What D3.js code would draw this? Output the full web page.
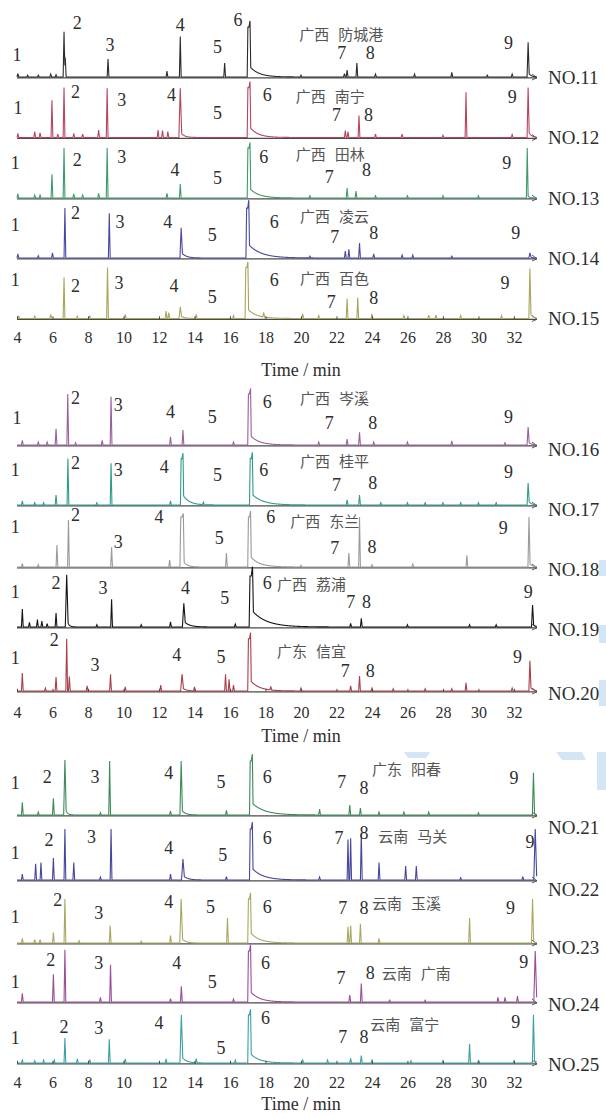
<!DOCTYPE html>
<html>
<head>
<meta charset="utf-8">
<script src="https://cdn.jsdelivr.net/npm/d3@7"></script>
<style>
  body { margin: 0; background: #fff; }
  svg text { font-family: "Liberation Serif", "Times New Roman", serif; fill: #2e2e2e; }
  svg text.cn { font-family: "Noto Sans CJK SC", sans-serif; fill: #555; }
</style>
</head>
<body>
<div id="chart"></div>
<script>
// sample names, origins and trace colours
const samples = ['NO.11','NO.12','NO.13','NO.14','NO.15','NO.16','NO.17','NO.18','NO.19','NO.20',
                 'NO.21','NO.22','NO.23','NO.24','NO.25'];
const regions = [['广西','防城港'],['广西','南宁'],['广西','田林'],['广西','凌云'],['广西','百色'],
                 ['广西','岑溪'],['广西','桂平'],['广西','东兰'],['广西','荔浦'],['广东','信宜'],
                 ['广东','阳春'],['云南','马关'],['云南','玉溪'],['云南','广南'],['云南','富宁']];
const traceColors = ['#2b2b2b','#b8455f','#3f9a6a','#4848a2','#a9a65a','#9b5e9e','#2f9c8c','#9a9a9a',
                     '#151515','#a8404a','#3d8a5a','#46469a','#a8a862','#9a4e9a','#3aa0a8'];
const tickValues = [4,6,8,10,12,14,16,18,20,22,24,26,28,30,32];

// main peaks: [time (min), height (% of row), half width, tail height, tail decay]
const majorPeaks = [
  [[6.65,78],[6.72,33],[9.13,31],[13.2,70],[15.7,24],[17.07,86,0.1,20,0.5],[23.15,24],[32.8,60,0.06,8,0.15]],
  [[5.97,64],[6.65,86],[9.08,85],[13.2,85,0.08,10,0.2],[17.07,86,0.1,20,0.45],[23.27,38],[29.3,78],[32.8,86,0.06,12,0.15]],
  [[5.97,41],[6.65,86],[9.08,86],[13.2,24],[17.07,86,0.1,18,0.5],[22.6,17],[23.1,12],[32.75,86,0.05,5,0.1]],
  [[6.7,86],[9.2,77],[13.25,52,0.07,10,0.25],[17.0,86,0.1,25,0.7],[22.5,12],[22.7,15],[23.3,26],[32.9,9,0.06,3,0.1]],
  [[6.65,71],[9.1,88],[13.2,20,0.07,5,0.2],[16.95,88,0.1,18,0.5],[22.6,34],[23.2,36],[32.9,86,0.06,10,0.15]],
  [[6.2,28],[6.86,88],[9.3,83],[12.65,14],[13.35,26],[17.1,88,0.1,18,0.5],[22.6,10],[23.3,22],[32.8,31,0.06,6,0.15]],
  [[6.2,17],[6.87,80],[9.3,72],[13.3,80,0.09,20,0.35],[17.2,80,0.1,20,0.6],[22.6,9],[23.3,17],[32.8,38,0.06,8,0.15]],
  [[6.25,38],[6.9,81],[9.33,34],[12.6,12],[13.3,86,0.12,15,0.2],[15.8,24],[17.1,86,0.1,20,0.5],[22.7,24],[23.3,86],[29.35,20],[32.85,86,0.06,8,0.15]],
  [[4.3,31],[5.15,13],[5.4,10],[6.2,24],[6.8,90,0.08,15,0.1],[9.33,48],[13.4,41,0.08,10,0.3],[17.2,88,0.12,30,0.8],[23.4,15],[33.05,38,0.06,8,0.1]],
  [[4.3,31],[6.2,24],[6.8,90],[6.95,25],[9.27,29],[13.3,29,0.08,6,0.2],[15.75,29],[15.95,20],[17.1,90,0.1,20,0.5],[23.3,26],[29.3,14],[32.9,52,0.06,8,0.15]],
  [[4.3,22],[6.05,29],[6.7,95,0.07,15,0.1],[9.22,93],[13.25,93,0.07,10,0.2],[15.8,8],[17.2,93,0.1,22,0.7],[21.05,10],[22.75,17],[23.35,12],[33.1,73,0.06,5,0.1]],
  [[4.3,10],[5.05,28],[5.35,30],[6.05,38],[6.7,88],[7.2,30],[9.3,88],[12.65,10],[13.35,36,0.08,8,0.25],[17.2,88,0.1,22,0.6],[22.65,70],[22.8,72],[23.4,82],[24.4,30],[25.9,24],[26.5,24],[33.2,88,0.08,12,0.15]],
  [[6.05,18],[6.7,76],[9.25,30],[12.65,13],[13.25,76,0.08,10,0.2],[15.86,43],[17.1,76,0.1,20,0.5],[22.65,28],[22.8,30],[23.35,33],[29.5,43],[33.05,76,0.06,5,0.1]],
  [[4.3,15],[6.05,48],[6.7,90],[9.27,64],[13.26,27],[17.1,88,0.1,20,0.5],[22.75,12],[23.4,32],[33.2,88,0.08,15,0.15]],
  [[6.7,43],[9.2,41],[13.26,83,0.08,12,0.25],[17.1,83,0.1,18,0.5],[22.8,8],[23.4,13],[29.5,33],[33.1,83,0.06,8,0.12]]
];

// small baseline peaks: [time, height]
const minorPeaks = [
  [[4.05,6],[4.6,3],[5.2,3],[5.9,5],[6.2,4],[12.45,10],[22.45,6],[22.6,12],[24.2,5],[26.4,5],[28.5,8],[31.9,5],[20.0,3],[30.5,3]],
  [[4.05,7],[5.0,10],[5.3,8],[6.3,6],[7.2,7],[7.7,6],[8.6,13],[11.95,13],[12.2,12],[12.5,10],[22.5,12],[22.65,10],[24.2,6],[25.7,6],[28.0,4],[31.9,5]],
  [[4.05,7],[5.0,5],[5.3,5],[7.2,7],[7.7,5],[8.6,8],[12.45,8],[20.5,4],[24.2,4],[26.0,4],[28.0,4],[30.0,4]],
  [[4.05,7],[5.2,4],[6.0,9],[20.5,3],[24.1,7],[25.7,5],[26.3,5],[28.5,3]],
  [[4.1,4],[5.0,4],[5.9,7],[7.4,4],[8.1,4],[10.1,7],[12.4,13],[12.55,10],[14.1,7],[16.2,5],[17.9,8],[20.1,8],[21.0,5],[24.0,8],[25.8,5],[27.2,6],[27.6,6],[29.0,5],[31.3,5]],
  [[4.3,8],[5.2,5],[5.7,5],[7.3,4],[8.8,8],[16.2,5],[21.0,5],[24.1,5],[26.0,5],[28.5,7],[31.5,4]],
  [[4.3,7],[5.0,4],[5.5,4],[8.5,4],[12.65,7],[14.5,4],[24.5,4],[26,4],[27,4],[28,4],[29,4],[30,4],[31,4]],
  [[4.3,6],[5.2,4],[20.0,3],[24.0,4],[26.3,5]],
  [[4.7,8],[5.7,6],[8.5,4],[11.0,4],[12.65,9],[16.3,5],[22.8,6],[26,4],[29.5,4],[31,4]],
  [[5.6,5],[7.95,9],[10.1,7],[12.1,10],[14.0,7],[16.2,10],[18.3,6],[20.0,5],[22.8,9],[24.0,5],[25.2,4],[27.0,4],[28.5,4],[31.9,5]],
  [[5.2,5],[8.7,4],[12.65,7],[24.4,5],[25.8,5],[27.2,5],[30,4]],
  [[8.7,5],[15.8,6],[21.05,5],[29,4],[32.5,6]],
  [[4.3,8],[5.0,6],[5.3,6],[7.5,4],[11.0,3],[24.4,8]],
  [[8.7,8],[12.65,6],[16.2,5],[25,3],[27,3],[31.1,8],[31.5,8],[32.2,10]],
  [[4.3,5],[5.0,4],[5.5,5],[6.1,5],[7.4,7],[8.1,6],[10.1,7],[12.4,7],[14.1,7],[16.3,5],[20.1,5],[21.5,5],[24.0,5],[26.2,4],[28.0,4],[30.0,4],[32.0,4]]
];

// peak number labels 1..9 as [time, level]; null when not marked
const peakLabels = [
  [[4.0,38],[7.4,93],[9.24,55],[13.2,90],[15.3,52],[16.45,98],[22.3,41],[23.9,41],[31.7,59]],
  [[4.05,51],[7.3,78],[9.9,65],[12.7,73],[15.3,42],[18.1,73],[22.0,39],[23.8,39],[31.9,70]],
  [[3.9,60],[7.4,65],[9.9,71],[12.9,48],[15.3,34],[17.9,71],[21.6,36],[23.7,48],[31.6,60]],
  [[3.9,57],[7.3,78],[9.8,62],[12.5,62],[15.0,40],[18.5,62],[21.9,36],[24.1,43],[32.1,43]],
  [[3.9,66],[7.3,56],[9.75,61],[12.85,56],[15.0,37],[18.5,66],[21.7,28],[24.1,35],[31.5,61]],
  [[4.0,47],[7.3,81],[9.7,69],[12.65,57],[15.0,48],[18.1,74],[21.6,38],[24.05,38],[31.7,48]],
  [[3.9,60],[7.3,72],[9.7,60],[12.3,66],[15.3,52],[17.9,60],[22.0,34],[24.05,38],[31.7,57]],
  [[3.9,69],[7.3,90],[9.7,43],[12.0,86],[15.4,50],[18.3,86],[21.9,33],[24.0,35],[31.4,67]],
  [[3.9,60],[6.2,76],[8.85,67],[13.5,67],[15.7,50],[18.1,76],[22.8,43],[23.7,43],[32.8,60]],
  [[3.9,57],[6.1,88],[8.4,45],[13.0,62],[15.5,59],null,[22.5,35],[23.9,35],[32.2,59]],
  [[3.9,55],[5.7,66],[8.4,66],[12.55,72],[15.5,57],[18.1,66],[22.3,57],[23.55,47],[32.0,64]],
  [[3.9,47],[5.8,69],[8.2,74],[12.55,55],[15.6,43],[18.1,72],[22.15,72],[23.55,81],[32.9,66]],
  [[3.9,45],[6.3,74],[8.6,52],[12.55,71],[14.9,62],[18.1,62],[22.35,60],[23.55,60],[31.8,60]],
  [[3.9,34],[5.9,72],[8.6,67],[13.0,67],[15.0,34],[18.0,67],[22.25,41],[23.9,50],[32.55,69]],
  [[3.9,43],[6.65,62],[8.6,60],[12.0,69],[15.5,26],[18.0,78],[22.35,45],[23.55,45],[32.1,71]]
];
// origin label anchor: [time, level]
const regionSpots = [[19.9,76],[19.7,74],[19.7,77],[19.95,74],[19.95,72],[19.95,83],[19.95,78],[19.4,81],
                     [18.65,76],[18.65,70],[24.0,81],[24.35,78],[24.0,71],[24.55,52],[23.9,69]];

// ---- layout ----
const W = 606, H = 1118;
const rowBase = [77,137.5,198,258,318.5, 445,505,567,627,691, 815,880,943,1002,1063];
const nameShift = [0,0,0,0,0, 4,4,2,2,2, 12,9,4,2,1];
const tickY = [337, 712, 1082];
const titleY = [370, 736, 1104];
const rowHeight = 58;

const svg = d3.select('#chart').append('svg')
    .attr('width', W)
    .attr('height', H);

// faint watermark remnants on the right
const wm = svg.append('g').attr('fill', '#d4e5f6');
wm.append('rect').attr('x', 599).attr('y', 560).attr('width', 7).attr('height', 16);
wm.append('rect').attr('x', 599).attr('y', 625).attr('width', 7).attr('height', 18);
wm.append('rect').attr('x', 599).attr('y', 680).attr('width', 7).attr('height', 26);
wm.append('rect').attr('x', 597).attr('y', 752).attr('width', 9).attr('height', 38);
wm.append('path').attr('d', 'M404,752 L430,752 L426,758 L408,758 Z');
wm.append('path').attr('d', 'M556,752 L582,752 L586,760 L562,760 Z');

const x = d3.scaleLinear().domain([4, 33.3]).range([17, 537]);

function signal(t, peaks) {
  let v = 0;
  for (const p of peaks) {
    const [pt, h, w = 0.05, tail = 0, tau = 0.3] = p;
    const d = t - pt;
    const a = Math.abs(d);
    if (a <= w) {
      const f = 1 - a / w;
      v += h * (w >= 0.09 ? Math.min(1, f * 2.5) : f);
    }
    if (tail && d > 0) v += tail * Math.exp(-d / tau) * Math.min(1, d / w);
  }
  return v;
}

const grid = d3.range(4, 33.3, 0.01);

samples.forEach((name, i) => {
  const base = rowBase[i];
  const y = d3.scaleLinear().domain([0, 100]).range([base, base - rowHeight]);
  const g = svg.append('g').attr('class', 'row');
  const peaks = majorPeaks[i].concat(minorPeaks[i]);
  const times = grid.concat(peaks.map(p => p[0])).sort((a, b) => a - b);
  const pts = times.map(t => [t, signal(t, peaks)]);

  // baseline with arrow end
  g.append('line')
      .attr('x1', x(4)).attr('x2', x(33.3))
      .attr('y1', base + 0.8).attr('y2', base + 0.8)
      .attr('stroke', '#4a4a4a').attr('stroke-width', 1.2);
  g.append('path')
      .attr('d', `M${x(33.3) - 5},${base - 3} L${x(33.3)},${base + 0.8} L${x(33.3) - 5},${base + 3}`)
      .attr('fill', 'none').attr('stroke', '#4a4a4a').attr('stroke-width', 0.9);

  g.append('path')
      .datum(pts)
      .attr('fill', 'none')
      .attr('stroke', traceColors[i])
      .attr('stroke-width', 1.1)
      .attr('d', d3.line().x(d => x(d[0])).y(d => y(d[1])));

  // peak numbers
  peakLabels[i].forEach((p, k) => {
    if (!p) return;
    g.append('text')
        .attr('x', x(p[0])).attr('y', y(p[1]))
        .attr('text-anchor', 'middle')
        .attr('dominant-baseline', 'central')
        .attr('font-size', 18)
        .text(k + 1);
  });

  // origin
  const r = g.append('text')
      .attr('class', 'cn')
      .attr('x', x(regionSpots[i][0])).attr('y', y(regionSpots[i][1]))
      .attr('dominant-baseline', 'central')
      .attr('font-size', 15);
  r.append('tspan').text(regions[i][0]);
  r.append('tspan').attr('dx', 9).text(regions[i][1]);

  // sample name
  g.append('text')
      .attr('x', 548).attr('y', base + nameShift[i])
      .attr('dominant-baseline', 'central')
      .attr('font-size', 19)
      .text(name);
});

// one time axis under each block of five
[4, 9, 14].forEach((ri, p) => {
  const base = rowBase[ri];
  const axis = d3.axisBottom(x)
      .tickValues(tickValues)
      .tickSizeInner(-3)
      .tickSizeOuter(0)
      .tickPadding(0)
      .tickFormat(d3.format('d'));
  const ag = svg.append('g')
      .attr('transform', `translate(0,${base + 0.8})`)
      .call(axis);
  ag.select('.domain').remove();
  ag.selectAll('.tick line').attr('stroke', '#4a4a4a');
  ag.selectAll('.tick text')
      .attr('y', tickY[p] - base)
      .attr('dy', null)
      .attr('dominant-baseline', 'central')
      .attr('font-family', null)
      .attr('font-size', 16)
      .attr('fill', '#2e2e2e');

  svg.append('text')
      .attr('x', 301).attr('y', titleY[p])
      .attr('text-anchor', 'middle')
      .attr('dominant-baseline', 'central')
      .attr('font-size', 18)
      .text('Time / min');
});
</script>
</body>
</html>
